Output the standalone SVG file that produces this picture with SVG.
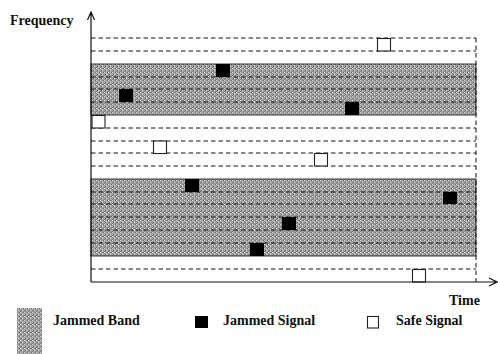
<svg xmlns="http://www.w3.org/2000/svg" width="498" height="354" viewBox="0 0 498 354">
<style>
.lbl{font-family:"Liberation Serif","Times New Roman",serif;font-weight:bold;font-size:14px;fill:#111}
.dash{stroke:#111;stroke-width:1;stroke-dasharray:4.5 3;fill:none}
.band{fill:url(#dither);stroke:#222;stroke-width:0.9}
.jam{fill:#000}
.safe{fill:#fff;stroke:#222;stroke-width:1.1}
.axis{stroke:#111;stroke-width:1.2;fill:none}
</style>
<defs>
<pattern id="dither" width="4" height="4" patternUnits="userSpaceOnUse">
<rect width="4" height="4" fill="#9e9e9e"/>
<rect x="0" y="0" width="1" height="1" fill="#d4d4d4"/>
<rect x="2" y="2" width="1" height="1" fill="#cccccc"/>
<rect x="1" y="2" width="1" height="1" fill="#6e6e6e"/>
<rect x="3" y="0" width="1" height="1" fill="#747474"/>
<rect x="2" y="1" width="1" height="1" fill="#bdbdbd"/>
<rect x="0" y="3" width="1" height="1" fill="#848484"/>
</pattern>
</defs>
<rect width="498" height="354" fill="#fff"/>
<g id="bands">
<rect class="band" x="91" y="64" width="385" height="51"/>
<rect class="band" x="91" y="179" width="385" height="77"/>
</g>
<g id="grid">
<path class="dash" d="M91 38H476M91 51H476M91 77H476M91 89H476M91 102H476M91 128H476M91 141H476M91 153H476M91 166H476M91 192H476M91 204H476M91 217H476M91 230H476M91 243H476M91 269H476M476 38V282"/>
</g>
<g id="jammed">
<rect class="jam" x="216" y="64" width="14" height="13"/>
<rect class="jam" x="119" y="89" width="14" height="13"/>
<rect class="jam" x="345" y="102" width="14" height="13"/>
<rect class="jam" x="185" y="179" width="14" height="13"/>
<rect class="jam" x="443" y="192" width="14" height="12"/>
<rect class="jam" x="282" y="217" width="14" height="13"/>
<rect class="jam" x="250" y="243" width="14" height="13"/>
</g>
<g id="safe">
<rect class="safe" x="377.5" y="38.5" width="13" height="12.5"/>
<rect class="safe" x="92" y="115.5" width="13" height="12.5"/>
<rect class="safe" x="153.5" y="141" width="13" height="12.5"/>
<rect class="safe" x="314.5" y="153.5" width="13" height="12.5"/>
<rect class="safe" x="412.5" y="269.5" width="13" height="12.5"/>
</g>
<g id="axes">
<path class="axis" d="M91 282V13M87.5 20L91 12L94.5 20"/>
<path class="axis" d="M91 282H496M489 278L497 282L489 286"/>
</g>
<g id="labels">
<text class="lbl" x="10" y="25">Frequency</text>
<text class="lbl" x="449" y="305">Time</text>
</g>
<g id="legend">
<rect x="17" y="308" width="25" height="46" fill="url(#dither)"/>
<text class="lbl" x="53" y="325">Jammed Band</text>
<rect class="jam" x="195" y="316" width="13" height="12"/>
<text class="lbl" x="223" y="325">Jammed Signal</text>
<rect class="safe" x="367.5" y="316.5" width="11" height="11.5"/>
<text class="lbl" x="396" y="325">Safe Signal</text>
</g>
</svg>
